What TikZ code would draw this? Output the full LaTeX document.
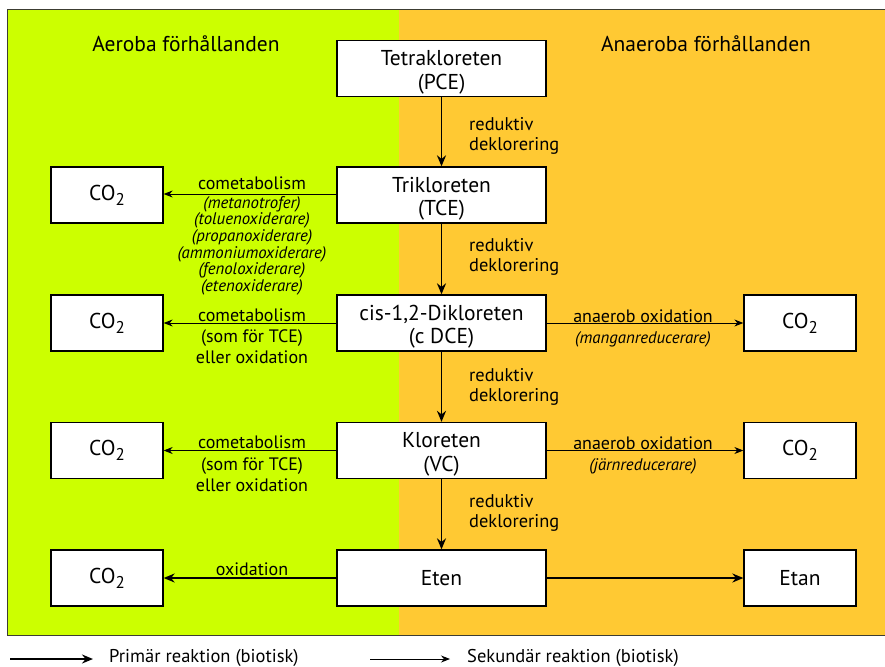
\documentclass[tikz,border=0pt]{standalone}
\usepackage{fontspec}
\setmainfont{PT Sans}
\usetikzlibrary{arrows.meta}
\definecolor{limegr}{RGB}{204,255,0}
\definecolor{orng}{RGB}{255,201,51}
\definecolor{framegray}{RGB}{60,60,50}
\newcommand{\cotwo}{CO\raisebox{-0.45ex}{\fontsize{17}{17}\selectfont 2}}
\newcommand{\topstrut}{\rule{0pt}{22.5pt}}
\begin{document}
\begin{tikzpicture}[x=1pt,y=-1pt,
  mainbox/.style={draw, line width=1.3pt, fill=white, minimum width=209, minimum height=56, inner sep=0, align=center, font=\fontsize{21.5}{23.5}\selectfont},
  sidebox/.style={draw, line width=1.3pt, fill=white, minimum width=112, minimum height=56, inner sep=0, align=center, font=\fontsize{21.5}{23.5}\selectfont},
  prim/.style={line width=1.8pt, -{Stealth[length=11pt,width=9pt]}},
  sec/.style={line width=0.9pt, -{Stealth[length=9pt,width=7pt]}},
  lbl/.style={font=\fontsize{18}{21}\selectfont, align=center, inner sep=0},
  ilbl/.style={font=\fontsize{16.8}{16.7}\selectfont\itshape, align=center, inner sep=0},
  red/.style={font=\fontsize{18.4}{19.5}\selectfont, align=left, anchor=west, inner sep=0},
  head/.style={font=\fontsize{21.5}{23}\selectfont, inner sep=0},
  leg/.style={font=\fontsize{18.5}{20}\selectfont, inner sep=0, anchor=west}]
\useasboundingbox (0,0) rectangle (885,666);
\fill[white] (0,0) rectangle (885,666);
\fill[limegr] (7,10) rectangle (399,635);
\fill[orng] (399,10) rectangle (885,635);
\draw[framegray, line width=1pt] (885,10) -- (7,10) -- (7,635) -- (885,635);

\node[head] (haer) at (186,44) {Aeroba förhållanden};
\node[head] (hana) at (706,44) {Anaeroba förhållanden};

\node[mainbox] (pce) at (441.5,68.5) {\topstrut Tetrakloreten\\(PCE)};
\node[mainbox] (tce) at (441.5,195) {\topstrut Trikloreten\\(TCE)};
\node[mainbox] (dce) at (441.5,323) {\topstrut cis-1,2-Dikloreten\\(c DCE)};
\node[mainbox] (vc) at (441.5,450.5) {\topstrut Kloreten\\(VC)};
\node[mainbox] (eten) at (441.5,578) {Eten};

\node[sidebox] (c1) at (107,195) {\cotwo};
\node[sidebox] (c2) at (107,323) {\cotwo};
\node[sidebox] (c3) at (107,450.5) {\cotwo};
\node[sidebox] (c4) at (107,578) {\cotwo};
\node[sidebox] (c5) at (800,323) {\cotwo};
\node[sidebox] (c6) at (800,450.5) {\cotwo};
\node[sidebox] (etan) at (800,578) {Etan};

\draw[prim] (pce) -- (tce);
\draw[prim] (tce) -- (dce);
\draw[prim] (dce) -- (vc);
\draw[prim] (vc) -- (eten);
\node[red] (r1) at (469,136) {reduktiv\\deklorering};
\node[red] (r2) at (469,257) {reduktiv\\deklorering};
\node[red] (r3) at (469,387) {reduktiv\\deklorering};
\node[red] (r4) at (469,513) {reduktiv\\deklorering};

\draw[sec] (tce.west |- 0,194) coordinate (t1) -- (c1.east |- t1);
\node[lbl, anchor=base] (l1) at (252,189) {cometabolism};
\node[ilbl, anchor=north] (l1b) at (252,196) {(metanotrofer)\\(toluenoxiderare)\\(propanoxiderare)\\(ammoniumoxiderare)\\(fenoloxiderare)\\(etenoxiderare)};

\draw[sec] (dce.west) -- (c2.east);
\node[lbl, anchor=base] (l2) at (252,321) {cometabolism};
\node[lbl, anchor=north] (l2b) at (252,329.5) {(som för TCE)\\eller oxidation};

\draw[sec] (vc.west) -- (c3.east);
\node[lbl, anchor=base] (l3) at (252,448) {cometabolism};
\node[lbl, anchor=north] (l3b) at (252,457.5) {(som för TCE)\\eller oxidation};

\draw[sec] (dce.east) -- (c5.west);
\node[lbl, anchor=base] (l5) at (643,322) {anaerob oxidation};
\node[ilbl, anchor=north] (l5b) at (643,331.5) {(manganreducerare)};

\draw[sec] (vc.east) -- (c6.west);
\node[lbl, anchor=base] (l6) at (643,449) {anaerob oxidation};
\node[ilbl, anchor=north] (l6b) at (643,458.5) {(järnreducerare)};

\draw[prim] (eten.west) -- (c4.east);
\node[lbl, anchor=base] (l7) at (252,575) {oxidation};
\draw[prim] (eten.east) -- (etan.west);

\coordinate (p1) at (10,659);
\coordinate (p2) at (93,659);
\draw[prim] (p1) -- (p2);
\node[leg] (lp) at (109,658) {Primär reaktion (biotisk)};
\coordinate (s1) at (370,659);
\coordinate (s2) at (450,659);
\draw[sec] (s1) -- (s2);
\node[leg] (ls) at (467,658) {Sekundär reaktion (biotisk)};
\end{tikzpicture}
\end{document}
